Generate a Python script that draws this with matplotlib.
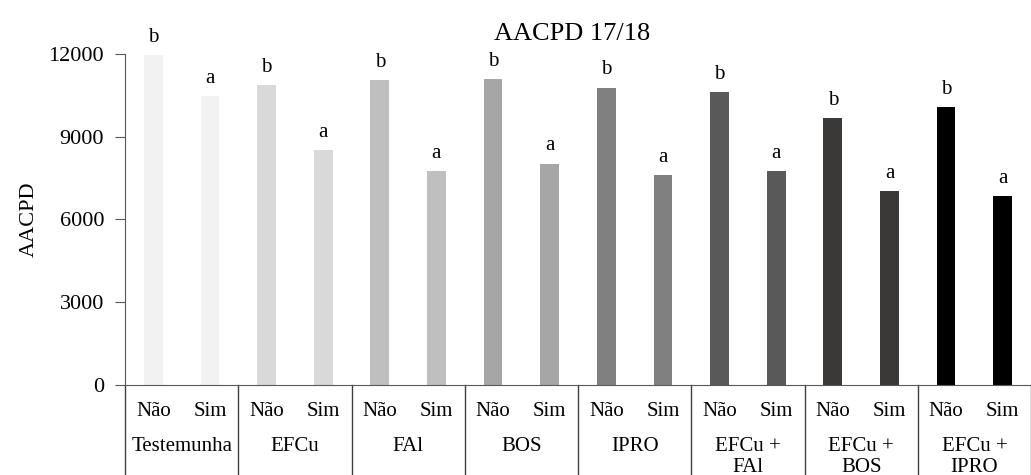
import numpy as np
import matplotlib.pyplot as plt
from matplotlib.transforms import blended_transform_factory

plt.rcParams['font.family'] = ['Liberation Serif', 'DejaVu Serif']

# treatments, responses and values
groups      = ['Testemunha', 'EFCu', 'FAl', 'BOS', 'IPRO', 'EFCu +\nFAl', 'EFCu +\nBOS', 'EFCu +\nIPRO']
levels      = ['Não', 'Sim']
nao_values  = [11950, 10870, 11060, 11090, 10780, 10620, 9670, 10070]
sim_values  = [10470, 8510, 7760, 8030, 7600, 7750, 7020, 6840]
nao_letters = ['b'] * 8
sim_letters = ['a'] * 8
colors      = ['#f2f2f2', '#d9d9d9', '#bfbfbf', '#a6a6a6', '#808080', '#595959', '#3b3838', '#000000']

fig = plt.figure(figsize=(10.31, 4.75), dpi=100)
ax = fig.add_axes([125 / 1031, 90 / 475, 906 / 1031, 331 / 475])

values  = []
letters = []
bar_colors = []
for i in range(len(groups)):
    values += [nao_values[i], sim_values[i]]
    letters += [nao_letters[i], sim_letters[i]]
    bar_colors += [colors[i], colors[i]]
x = np.arange(len(values))

bars = ax.bar(x, values, width=0.33, color=bar_colors)
for b, lab in zip(bars, letters):
    ax.annotate(lab, (b.get_x() + b.get_width() / 2, b.get_height()),
                xytext=(0, 6), textcoords='offset points',
                ha='center', va='bottom', fontsize=15)

ax.set_xlim(-0.5, len(values) - 0.5)
ax.set_ylim(0, 12000)
ax.set_yticks([0, 3000, 6000, 9000, 12000])
ax.tick_params(axis='y', labelsize=16, length=7, color='#595959', pad=8)
ax.set_xticks(x)
ax.set_xticklabels(levels * len(groups), fontsize=15)
ax.tick_params(axis='x', length=0, pad=12)

for s in ['top', 'right']:
    ax.spines[s].set_visible(False)
for s in ['left', 'bottom']:
    ax.spines[s].set_color('#595959')

# group separators and group labels under the axis
trans = blended_transform_factory(ax.transData, ax.transAxes)
for k in range(len(groups) + 1):
    xs = 2 * k - 0.5
    ax.plot([xs, xs], [0, -0.3], transform=trans, color='#404040',
            lw=1, clip_on=False)
for k, g in enumerate(groups):
    ax.text(2 * k + 0.5, -0.158, g, transform=trans, ha='center', va='top',
            fontsize=15, linespacing=1.1)

ax.set_ylabel('AACPD', fontsize=16, labelpad=7)
ax.set_title('AACPD 17/18', fontsize=19, pad=10, x=0.493)

fig.savefig('out.png', dpi=100)
